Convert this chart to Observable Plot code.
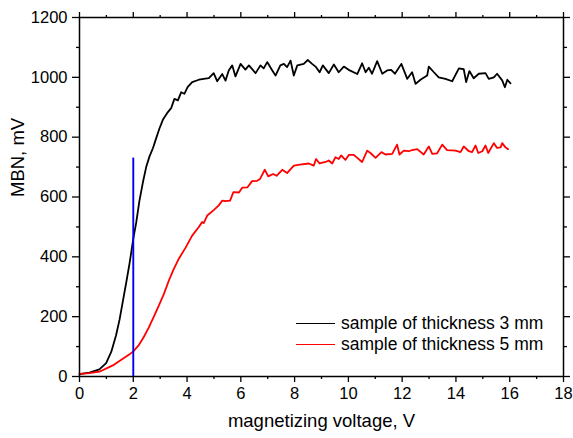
<!DOCTYPE html>
<html>
<head>
<meta charset="utf-8">
<script src="https://cdn.jsdelivr.net/npm/d3@7"></script>
<script src="https://cdn.jsdelivr.net/npm/@observablehq/plot@0.6"></script>
<style>
  html, body { margin: 0; padding: 0; background: #fff; }
  #wrap { position: relative; width: 573px; height: 438px; font-family: "Liberation Sans", Arial, sans-serif; }
  .leg { position: absolute; left: 296px; height: 21px; line-height: 21px; font-size: 17.5px; color: #000; white-space: nowrap; }
  .leg .sw { position: absolute; left: 0; top: 10px; width: 39px; height: 0; border-top: 1.8px solid; }
  .leg .tx { position: absolute; left: 45px; top: 0; }
</style>
</head>
<body>
<div id="wrap"></div>
<script>
// ---- data ----
const black3mmX = [0, 0.37, 0.74, 0.99, 1.18, 1.36, 1.49, 1.61, 1.74, 1.86, 2.0, 2.11, 2.23, 2.36, 2.48, 2.60, 2.73, 2.85, 2.97, 3.10, 3.28, 3.41, 3.53, 3.66, 3.78, 3.90, 4.02,
  4.19, 4.44, 4.62, 4.81, 4.99, 5.12, 5.31, 5.43, 5.55, 5.68, 5.80, 5.99, 6.17, 6.30, 6.55, 6.73, 6.85, 6.98, 7.17, 7.29, 7.47, 7.60, 7.72, 7.85, 7.97, 8.10, 8.34, 8.49, 8.65, 8.80, 8.93, 9.05, 9.27, 9.46, 9.64, 9.83, 10.01,
  10.33, 10.51, 10.64, 10.76, 10.88, 11.07, 11.26, 11.44, 11.59, 11.73, 11.97, 12.19, 12.37, 12.50, 12.68, 12.93, 12.99, 13.18, 13.36, 13.61, 13.86, 14.11, 14.29, 14.38, 14.50, 14.66, 14.85, 15.10, 15.22, 15.41, 15.53, 15.72, 15.82, 15.91, 16.03];
const black3mmY = [8, 13, 24, 45, 82, 138, 190, 250, 315, 377, 460, 515, 588, 650, 700, 735, 763, 796, 828, 858, 883, 897, 928, 923, 950, 945, 967,
  984, 992, 995, 997, 1014, 987, 1011, 989, 1023, 1040, 1003, 1045, 1026, 1040, 1014, 1040, 1030, 1051, 1023, 1006, 1040, 1045, 1034, 1056, 1006, 1040, 1045, 1058, 1045, 1034, 1017, 1040, 1014, 1043, 1017, 1036, 1025,
  1011, 1047, 1017, 1032, 1012, 1054, 1012, 1023, 1025, 1012, 1045, 995, 1017, 978, 992, 1006, 1036, 1017, 1000, 995, 987, 1030, 1027, 984, 1021, 997, 1012, 1014, 995, 1000, 1012, 990, 967, 992, 980];

const red5mmX = [0, 0.37, 0.74, 1.24, 1.61, 1.86, 2.0, 2.19, 2.39, 2.58, 2.76, 2.95, 3.14, 3.32, 3.50, 3.69, 3.94, 4.19, 4.43, 4.56, 4.62, 4.75, 5.0, 5.18, 5.31, 5.43, 5.60, 5.72, 5.93, 6.05, 6.24, 6.42, 6.61, 6.71, 6.89, 7.02, 7.20, 7.33, 7.54, 7.72, 7.97, 8.19,
  8.53, 8.71, 8.80, 8.93, 9.15, 9.27, 9.40, 9.52, 9.64, 9.73, 9.89, 10.02, 10.20, 10.33, 10.51, 10.70, 10.82, 11.01, 11.23, 11.38, 11.63, 11.81, 11.90, 12.06, 12.25, 12.37, 12.56, 12.80, 12.99, 13.12, 13.30, 13.49, 13.67, 13.98, 14.17, 14.29, 14.48, 14.60, 14.73, 14.83, 14.98, 15.10, 15.20, 15.41, 15.53, 15.66, 15.72, 15.84, 15.94];
const red5mmY = [9, 11, 16, 37, 59, 74, 84, 103, 132, 164, 199, 237, 276, 320, 358, 393, 430, 471, 499, 516, 513, 538, 557, 572, 588, 586, 588, 616, 615, 631, 632, 653, 654, 660, 691, 669, 677, 671, 691, 680, 705, 708,
  712, 705, 727, 712, 717, 722, 712, 733, 727, 739, 724, 741, 741, 731, 717, 755, 747, 731, 750, 742, 744, 775, 742, 755, 753, 757, 760, 742, 769, 744, 746, 775, 757, 755, 750, 769, 753, 750, 772, 747, 753, 772, 747, 780, 764, 766, 780, 766, 760];

const markerVoltage = [2];
const markerTopMV = 730;

const xMajorTicks = [0, 2, 4, 6, 8, 10, 12, 14, 16, 18];
const xMinorTicks = [1, 3, 5, 7, 9, 11, 13, 15, 17];
const yMajorTicks = [0, 200, 400, 600, 800, 1000, 1200];
const yMinorTicks = [100, 300, 500, 700, 900, 1100];

const seriesNames = ["sample of thickness 3 mm", "sample of thickness 5 mm"];
const seriesColors = ["#000000", "#ff0000"];
const xLabel = "magnetizing voltage, V";
const yLabel = "MBN, mV";

// ---- build ----
const black = black3mmX.map((x, i) => ({x, y: black3mmY[i]}));
const red = red5mmX.map((x, i) => ({x, y: red5mmY[i]}));
const blank = () => "";
const plain = d => String(d);
const axisStyle = {stroke: "#000", strokeWidth: 1.3, label: null, fontSize: 16.5};

const chart = Plot.plot({
  width: 573,
  height: 438,
  marginLeft: 79,
  marginRight: 10,
  marginTop: 17,
  marginBottom: 62,
  style: {fontFamily: '"Liberation Sans", Arial, sans-serif', fontSize: "16.5px", color: "#000", background: "#fff", overflow: "visible"},
  x: {domain: [0, 18]},
  y: {domain: [0, 1200]},
  marks: [
    Plot.line(black, {x: "x", y: "y", stroke: seriesColors[0], strokeWidth: 1.8, curve: "linear"}),
    Plot.line(red, {x: "x", y: "y", stroke: seriesColors[1], strokeWidth: 1.8, curve: "linear"}),
    Plot.ruleX(markerVoltage, {x: d => d, y1: 0, y2: markerTopMV, stroke: "#0000ee", strokeWidth: 1.9}),
    Plot.frame({stroke: "#000", strokeWidth: 1.5}),
    Plot.axisX({...axisStyle, ticks: xMajorTicks, anchor: "bottom", tickSize: 6, tickPadding: 5, tickFormat: plain}),
    Plot.axisX({...axisStyle, ticks: xMinorTicks, anchor: "bottom", tickSize: 3, tickFormat: blank}),
    Plot.axisX({...axisStyle, ticks: xMajorTicks, anchor: "top", tickSize: 6, tickFormat: blank}),
    Plot.axisX({...axisStyle, ticks: xMinorTicks, anchor: "top", tickSize: 3, tickFormat: blank}),
    Plot.axisY({...axisStyle, ticks: yMajorTicks, anchor: "left", tickSize: 7, tickPadding: 5, tickFormat: plain}),
    Plot.axisY({...axisStyle, ticks: yMinorTicks, anchor: "left", tickSize: 3, tickFormat: blank}),
    Plot.axisY({...axisStyle, ticks: yMajorTicks, anchor: "right", tickSize: 6, tickFormat: blank}),
    Plot.axisY({...axisStyle, ticks: yMinorTicks, anchor: "right", tickSize: 3, tickFormat: blank}),
    Plot.text([xLabel], {text: d => d, frameAnchor: "bottom", dy: 50, fontSize: 18.5, fill: "#000"}),
    Plot.text([yLabel], {text: d => d, frameAnchor: "left", dx: -61, rotate: -90, fontSize: 18.5, fill: "#000"})
  ]
});

const wrap = document.getElementById("wrap");
wrap.appendChild(chart);

const legendTops = [313, 334];
seriesNames.forEach((name, i) => {
  const row = document.createElement("div");
  row.className = "leg";
  row.style.top = legendTops[i] + "px";
  const sw = document.createElement("span");
  sw.className = "sw";
  sw.style.borderTopColor = seriesColors[i];
  const tx = document.createElement("span");
  tx.className = "tx";
  tx.textContent = name;
  row.appendChild(sw);
  row.appendChild(tx);
  wrap.appendChild(row);
});
</script>
</body>
</html>
